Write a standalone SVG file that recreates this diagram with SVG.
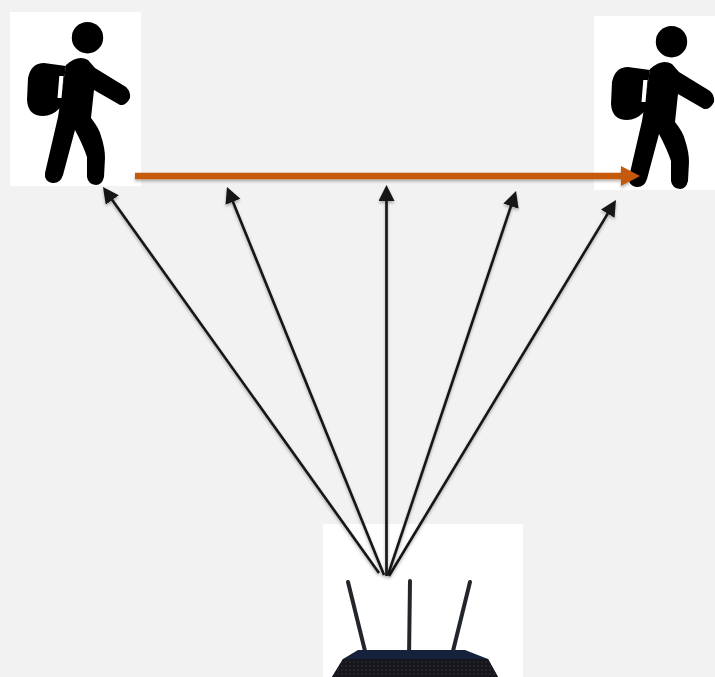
<svg xmlns="http://www.w3.org/2000/svg" width="715" height="677" viewBox="0 0 715 677">
<style>
.card{fill:#fff}
.ray{stroke:#141414;stroke-width:2.600;fill:none;marker-end:url(#ah)}
.ant{stroke:#22272c;stroke-width:4;stroke-linecap:round;fill:none}
</style>
<defs>
<marker id="ah" markerUnits="userSpaceOnUse" markerWidth="18" markerHeight="18" refX="1" refY="8" orient="auto"><path d="M0 0L16 8L0 16Z" fill="#141414"/></marker>
<marker id="oh" markerUnits="userSpaceOnUse" markerWidth="20" markerHeight="20" refX="1" refY="10" orient="auto"><path d="M0 0L19 10L0 20Z" fill="#c55a11"/></marker>
<filter id="sh" x="-5%" y="-20%" width="110%" height="140%"><feDropShadow dx="0" dy="2" stdDeviation="1.5" flood-color="#000" flood-opacity=".3"/></filter>
<filter id="soft" x="-5%" y="-5%" width="110%" height="110%"><feGaussianBlur stdDeviation=".6"/></filter>
<pattern id="dots" width="4" height="4" patternUnits="userSpaceOnUse"><rect width="4" height="4" fill="#17181b"/><circle cx="2" cy="2" r=".8" fill="#333438"/></pattern>
<g id="hiker">
<g filter="url(#soft)">
<circle cx="87.500" cy="37.700" r="15.700"/>
<path d="M27 100L28 78Q31 63 44 63L66 66L60 108Q52 116 43 116Q28 116 27 100Z"/>
<path d="M66 65Q78 54 88 60L95 68L126 87Q131 92 130 98Q126 106 120 105L94 90L91 118Q99 128 101 136Q105 148 105 158L104 177Q102 185 96 185Q88 184 87 177L87 157Q83 145 75 130L63 175Q60 184 52 183Q44 181 45 173L58 117Z"/>
<path d="M59.300 76H63.500L61.500 98H57.500Z" fill="#fff"/>
</g>
</g>
</defs>
<rect width="715" height="677" fill="#f2f2f2"/>
<g id="hiker-left">
<rect class="card" x="10" y="12" width="131" height="174"/>
<use href="#hiker"/>
</g>
<g id="hiker-right">
<rect class="card" x="594" y="16" width="121" height="174"/>
<use href="#hiker" transform="translate(584 4)"/>
</g>
<g id="router">
<rect class="card" x="323" y="524" width="200" height="153"/>
<g filter="url(#soft)">
<path class="ant" d="M348 582L365 651"/>
<path class="ant" d="M410 581L409 659"/>
<path class="ant" d="M470 582L453 651"/>
<path d="M358 650H465L488 659L498 677H332L343 659Z" fill="#17233a"/>
<path d="M343 659H488L498 677H332Z" fill="url(#dots)"/>
</g>
</g>
<g id="connectors">
<g filter="url(#sh)">
<path class="ray" d="M379 573L111.700 199.200"/>
<path class="ray" d="M384 575L232.600 200.900"/>
<path class="ray" d="M386.500 576V200"/>
<path class="ray" d="M388 575L511.300 205.200"/>
<path class="ray" d="M389 576L608.200 212.800"/>
<path d="M135 176H622" stroke="#c55a11" stroke-width="6.500" fill="none" marker-end="url(#oh)"/>
</g>
</g>
</svg>
